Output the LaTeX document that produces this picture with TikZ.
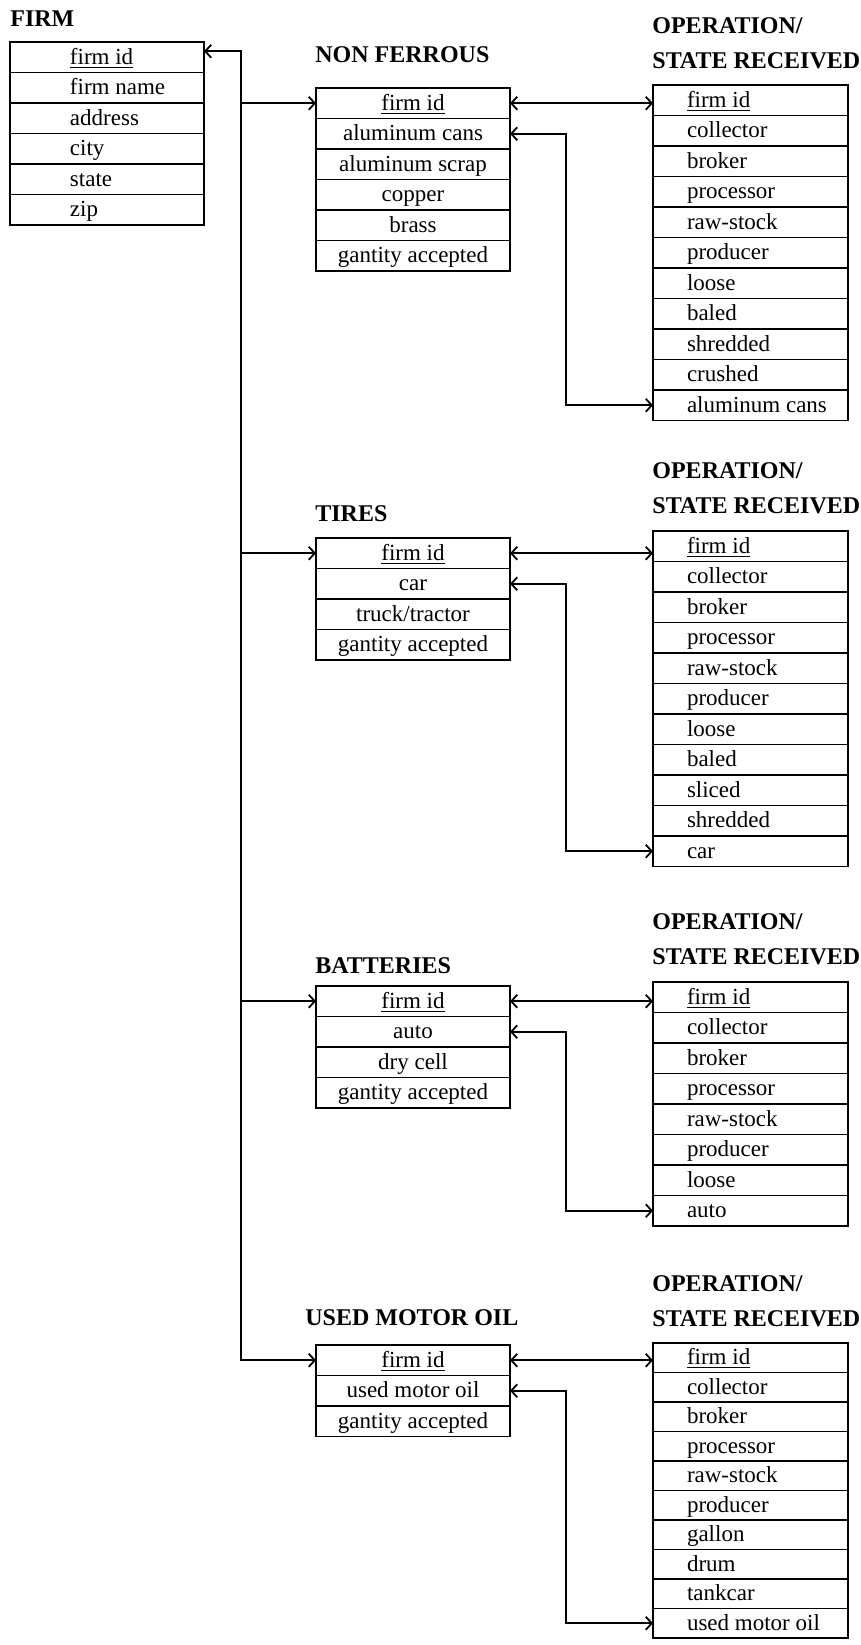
\documentclass[tikz,border=0pt]{standalone}
\usepackage{fontspec}
\setmainfont{Liberation Serif}
\usetikzlibrary{arrows.meta}

\tikzset{
  row/.style={draw, line width=0.9pt, minimum width=97pt, minimum height=15.25pt,
    inner sep=0pt, outer sep=0pt, text height=8.5pt, text depth=1.5pt,
    font=\fontsize{11.5}{13}\selectfont},
  firmrow/.style={row, text width=97pt, align=left,
    execute at begin node={\spaceskip=0pt\xspaceskip=0pt\hspace*{30pt}}},
  oprow/.style={row, minimum width=97.5pt, text width=97.5pt, align=left,
    execute at begin node={\spaceskip=0pt\xspaceskip=0pt\hspace*{17pt}}},
  head/.style={anchor=west, inner sep=0pt, align=left,
    font=\bfseries\fontsize{12}{17.5}\selectfont},
  link/.style={line width=0.9pt}
}

\begin{document}
\begin{tikzpicture}[x=0.5pt, y=-0.5pt, >={Straight Barb[length=3pt,width=6.5pt]}]
  \fill[white] (0,0) rectangle (861,1645);
  \useasboundingbox (0,0) rectangle (861,1645);

  % headings
  \node[head] (firmhead) at (10,19) {FIRM};
  \node[head] (nfhead) at (315,55) {NON FERROUS};
  \node[head] (tireshead) at (315,514) {TIRES};
  \node[head] (bathead) at (315,966) {BATTERIES};
  \node[head] (umohead) at (305,1318) {USED MOTOR OIL};
  \node[head] (op1head) at (652,43) {OPERATION/\\STATE RECEIVED};
  \node[head] (op2head) at (652,488.5) {OPERATION/\\STATE RECEIVED};
  \node[head] (op3head) at (652,939.5) {OPERATION/\\STATE RECEIVED};
  \node[head] (op4head) at (652,1301) {OPERATION/\\STATE RECEIVED};

  % tables
  \foreach \t [count=\i] in {\underline{firm id},firm name,address,city,state,zip}
    \node[firmrow] (firm-\i) at (107,{42+30.5*(\i-0.5)}) {\t};

  \foreach \t [count=\i] in {\underline{firm id},aluminum cans,aluminum scrap,copper,brass,gantity accepted}
    \node[row] (nf-\i) at (413,{88+30.5*(\i-0.5)}) {\t};
  \foreach \t [count=\i] in {\underline{firm id},car,truck/tractor,gantity accepted}
    \node[row] (tires-\i) at (413,{538+30.5*(\i-0.5)}) {\t};
  \foreach \t [count=\i] in {\underline{firm id},auto,dry cell,gantity accepted}
    \node[row] (bat-\i) at (413,{986+30.5*(\i-0.5)}) {\t};
  \foreach \t [count=\i] in {\underline{firm id},used motor oil,gantity accepted}
    \node[row] (umo-\i) at (413,{1345+30.5*(\i-0.5)}) {\t};

  \foreach \t [count=\i] in {\underline{firm id},collector,broker,processor,raw-stock,producer,loose,baled,shredded,crushed,aluminum cans}
    \node[oprow] (op1-\i) at (750.5,{85+30.5*(\i-0.5)}) {\t};
  \foreach \t [count=\i] in {\underline{firm id},collector,broker,processor,raw-stock,producer,loose,baled,sliced,shredded,car}
    \node[oprow] (op2-\i) at (750.5,{531+30.5*(\i-0.5)}) {\t};
  \foreach \t [count=\i] in {\underline{firm id},collector,broker,processor,raw-stock,producer,loose,auto}
    \node[oprow] (op3-\i) at (750.5,{982+30.5*(\i-0.5)}) {\t};
  \foreach \t [count=\i] in {\underline{firm id},collector,broker,processor,raw-stock,producer,gallon,drum,tankcar,used motor oil}
    \node[oprow, minimum height=14.75pt] (op4-\i) at (750.5,{1343+29.5*(\i-0.5)}) {\t};

  % firm id trunk
  \coordinate (trunk) at (241,0);
  \draw[link, <->] ([yshift=3pt]firm-1.east) -| (trunk |- umo-1.west) -- (umo-1.west);
  \foreach \e in {nf,tires,bat}
    \draw[link, ->] (trunk |- \e-1.west) -- (\e-1.west);

  % material to operation/state
  \draw[link, <->] (nf-1.east) -- (nf-1.east -| op1-1.west);
  \draw[link, <->] (nf-2.east) -- ++(56,0) |- (op1-11.west);
  \draw[link, <->] (tires-1.east) -- (tires-1.east -| op2-1.west);
  \draw[link, <->] (tires-2.east) -- ++(56,0) |- (op2-11.west);
  \draw[link, <->] (bat-1.east) -- (bat-1.east -| op3-1.west);
  \draw[link, <->] (bat-2.east) -- ++(56,0) |- (op3-8.west);
  \draw[link, <->] (umo-1.east) -- (umo-1.east -| op4-1.west);
  \draw[link, <->] (umo-2.east) -- ++(56,0) |- (op4-10.west);
\end{tikzpicture}
\end{document}
